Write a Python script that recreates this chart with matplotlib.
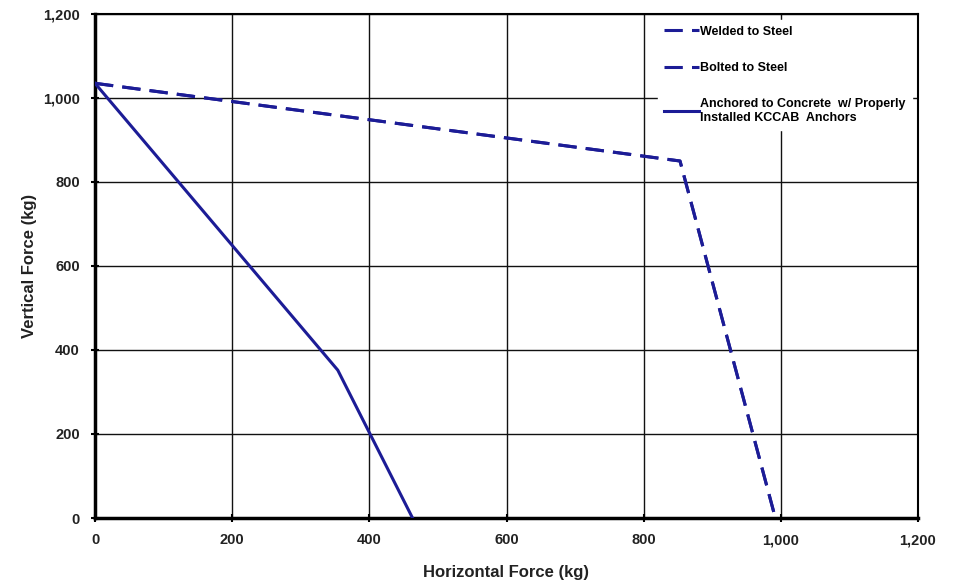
import matplotlib.pyplot as plt
from matplotlib.ticker import FuncFormatter

plt.rcParams['font.family'] = ['Liberation Sans', 'DejaVu Sans']
plt.rcParams['font.weight'] = 'bold'

# data (kg)
welded_x = [0, 853, 992]
welded_y = [1035, 850, 0]
bolted_x = [0, 853, 992]
bolted_y = [1035, 850, 0]
anchored_x = [0, 354, 463]
anchored_y = [1035, 352, 0]

ticks = [0, 200, 400, 600, 800, 1000, 1200]
navy = '#1c1c96'

fig = plt.figure(figsize=(9.62, 5.82), dpi=100)
ax = fig.add_axes([95 / 962, 1 - 518 / 582, (918 - 95) / 962, (518 - 14) / 582])

ax.plot(welded_x, welded_y, color=navy, lw=2.2, ls=(0, (6, 3)), label='Welded to Steel', zorder=3)
ax.plot(bolted_x, bolted_y, color=navy, lw=2.2, ls=(0, (6, 3)), label='Bolted to Steel', zorder=3)
ax.plot(anchored_x, anchored_y, color=navy, lw=2.2, ls='-',
        label='Anchored to Concrete  w/ Properly\nInstalled KCCAB  Anchors', zorder=3)

ax.set_xlim(0, 1200)
ax.set_ylim(0, 1200)
ax.set_xticks(ticks)
ax.set_yticks(ticks)
fmt = FuncFormatter(lambda v, p: f'{int(v):,}')
ax.xaxis.set_major_formatter(fmt)
ax.yaxis.set_major_formatter(fmt)
ax.grid(True, color='#111111', lw=1.0)
ax.tick_params(direction='inout', length=6, width=1.5, labelsize=10.5, pad=8)
for lab in ax.get_xticklabels() + ax.get_yticklabels():
    lab.set_fontweight('bold')
    lab.set_color('#222222')

ax.spines['left'].set_linewidth(2.5)
ax.spines['bottom'].set_linewidth(2.5)
ax.spines['top'].set_linewidth(1.5)
ax.spines['right'].set_linewidth(1.5)

ax.set_xlabel('Horizontal Force (kg)', fontsize=12, fontweight='bold', color='#222222', labelpad=13)
ax.set_ylabel('Vertical Force (kg)', fontsize=12, fontweight='bold', color='#222222', labelpad=4)

leg = ax.legend(loc='upper left', bbox_to_anchor=(658 / 962, 1 - 20 / 582),
                bbox_transform=fig.transFigure, frameon=True, fancybox=False,
                edgecolor='white', facecolor='white', framealpha=1,
                prop={'size': 9, 'weight': 'bold'}, handlelength=2.8, handletextpad=0.15,
                labelspacing=1.95, borderpad=0.45, borderaxespad=0)
leg.set_zorder(5)

fig.savefig('out.png', dpi=100)
